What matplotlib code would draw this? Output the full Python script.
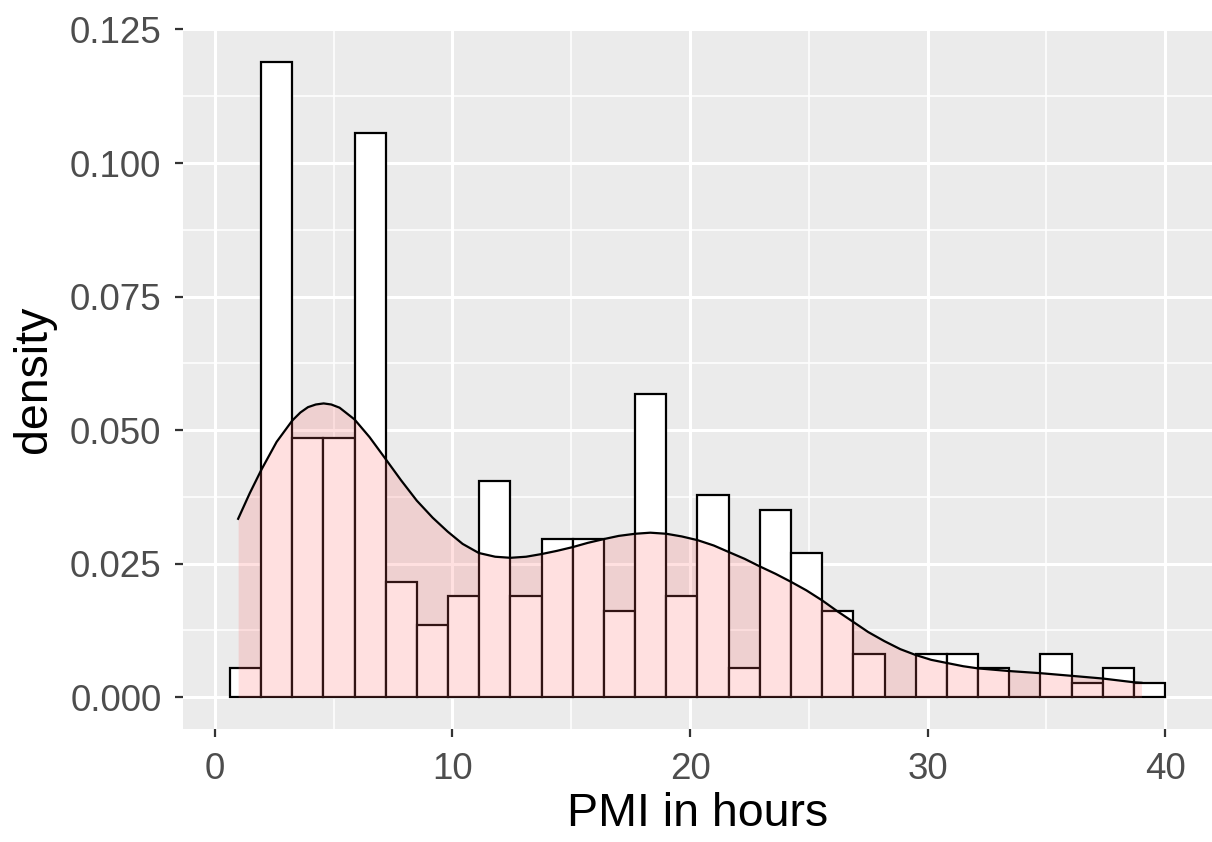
import numpy as np
import matplotlib
matplotlib.use("Agg")
import matplotlib.pyplot as plt
from matplotlib.ticker import MultipleLocator, FormatStrFormatter

plt.rcParams['font.family'] = ['Liberation Sans', 'DejaVu Sans']

# histogram (density scale), 30 bins
bin_start = 0.63
bin_width = 1.3123
hist_density = [0.0054, 0.1190, 0.0486, 0.0486, 0.1057, 0.0216, 0.0135, 0.0189,
                0.0405, 0.0189, 0.0297, 0.0297, 0.0162, 0.0568, 0.0189, 0.0378,
                0.0054, 0.0351, 0.0270, 0.0162, 0.0081, 0.0, 0.0081, 0.0081,
                0.0054, 0.0, 0.0081, 0.0027, 0.0054, 0.0027]

# kernel density curve
dens_x = [0.98, 1.47, 1.96, 2.6, 3.26, 3.6, 3.92, 4.25, 4.58, 4.9, 5.25, 5.88, 6.51,
          7.17, 7.84, 8.50, 9.17, 9.80, 10.43, 11.11, 11.8, 12.44, 13.1, 13.75,
          14.4, 15.06, 15.7, 16.37, 17.0, 17.69, 18.33, 19.0, 19.65, 20.32, 21.0,
          21.62, 22.3, 22.93, 23.6, 24.25, 24.9, 25.57, 26.2, 26.87, 27.5, 28.18,
          28.85, 29.5, 30.15, 30.82, 31.5, 32.12, 33.43, 34.75, 36.07, 37.37,
          38.68, 39.0]
dens_y = [0.0334, 0.0382, 0.0426, 0.0478, 0.0518, 0.0533, 0.0543, 0.0548, 0.0550,
          0.0548, 0.0542, 0.0520, 0.0487, 0.0447, 0.0406, 0.0368, 0.0336, 0.0310,
          0.0287, 0.0270, 0.0263, 0.0261, 0.0263, 0.0268, 0.0274, 0.0281, 0.0289,
          0.0296, 0.0302, 0.0306, 0.0308, 0.0306, 0.0301, 0.0294, 0.0284, 0.0272,
          0.0259, 0.0245, 0.0231, 0.0216, 0.0200, 0.0181, 0.0161, 0.0141, 0.0122,
          0.0105, 0.0090, 0.0079, 0.0070, 0.0064, 0.0058, 0.0054, 0.0049, 0.0045,
          0.0040, 0.0035, 0.0028, 0.0027]

x_ticks = [0, 10, 20, 30, 40]
y_ticks = [0.0, 0.025, 0.05, 0.075, 0.1, 0.125]

fig = plt.figure(figsize=(12.12, 8.42), dpi=100)
ax = fig.add_axes([0.151, 0.1342, 0.849, 0.8314])
ax.set_facecolor('#EBEBEB')

lefts = bin_start + bin_width * np.arange(len(hist_density))
ax.bar(lefts, hist_density, width=bin_width, align='edge', color='white',
       edgecolor='black', linewidth=1.6, zorder=2)
ax.fill_between(dens_x, 0, dens_y, color='#FF6666', alpha=0.2, linewidth=0, zorder=3)
ax.plot(dens_x, dens_y, color='black', linewidth=1.6, zorder=4)

ax.set_xlim(-1.34, 41.97)
ax.set_ylim(-0.00595, 0.1251)
ax.set_xticks(x_ticks)
ax.set_yticks(y_ticks)
ax.yaxis.set_major_formatter(FormatStrFormatter('%.3f'))
ax.xaxis.set_minor_locator(MultipleLocator(5))
ax.yaxis.set_minor_locator(MultipleLocator(0.0125))
ax.grid(which='major', color='white', linewidth=2.2, zorder=0)
ax.grid(which='minor', color='white', linewidth=1.1, zorder=0)
ax.set_axisbelow(True)
for s in ax.spines.values():
    s.set_visible(False)

ax.tick_params(which='major', length=5.5, width=1.6, color='#333333',
               labelsize=26.5, labelcolor='#4D4D4D')
ax.tick_params(axis='x', pad=11)
ax.tick_params(axis='y', pad=10)
ax.tick_params(which='minor', length=0)

ax.set_xlabel('PMI in hours', fontsize=33.5, labelpad=4)
ax.set_ylabel('density', fontsize=33.5, labelpad=10)

fig.savefig('out.png', dpi=100)
